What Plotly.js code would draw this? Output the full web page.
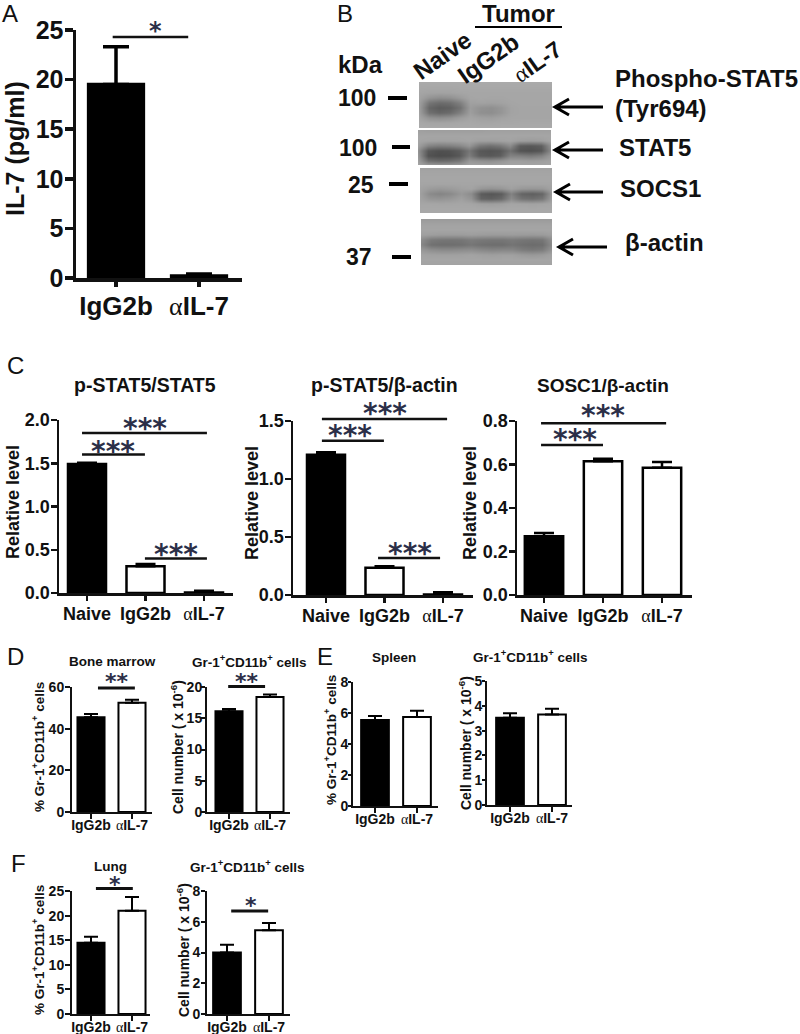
<!DOCTYPE html>
<html><head><meta charset="utf-8">
<script src="https://cdn.plot.ly/plotly-3.0.1.min.js"></script>
<style>html,body{margin:0;padding:0;background:#fff}</style></head>
<body><div id="chart" style="width:800px;height:1034px"></div>
<script>
// ---------- data ----------
const ALPHA = '<span style="font-family:Liberation Serif;font-weight:400">α</span>';
const groups2 = ['IgG2b', ALPHA + 'IL-7'];
const groups3 = ['Naive', 'IgG2b', ALPHA + 'IL-7'];
const fill2 = ['#000000','#ffffff'];
const fill3 = ['#000000','#ffffff','#ffffff'];

const il7Values = [19.5, 0.2];            const il7Err = [3.8, 0.2];
const pStat5Values = [1.49, 0.31, 0.005];  const pStat5Err = [0.015, 0.025, 0.02];
const pActinValues = [1.21, 0.235, 0.005]; const pActinErr = [0.02, 0.012, 0.018];
const socsValues = [0.27, 0.615, 0.585];   const socsErr = [0.015, 0.012, 0.027];
const bmPctValues = [45.5, 52.5];   const bmPctErr = [1.5, 1.4];
const bmNumValues = [16.1, 18.4];   const bmNumErr = [0.4, 0.4];
const spPctValues = [5.55, 5.75];   const spPctErr = [0.25, 0.4];
const spNumValues = [3.52, 3.65];   const spNumErr = [0.18, 0.23];
const luPctValues = [14.5, 21.0];   const luPctErr = [1.2, 2.8];
const luNumValues = [4.0, 5.45];    const luNumErr = [0.5, 0.47];

// western blot grey levels (0 black .. 255 white), lane by lane
const blotPhospho = [
 [170,170,170,170,170,170,170,170,170,170,170,170,170,170],
 [168,167,167,167,168,168,168,168,168,168,168,168,168,168],
 [165,163,162,163,165,166,166,166,166,166,166,166,166,166],
 [163,148,142,145,155,165,166,165,165,166,166,166,166,166],
 [160,118,108,112,128,160,162,160,162,165,166,166,166,166],
 [158,102,92,96,114,156,146,143,150,163,165,165,165,165],
 [160,112,102,108,128,158,144,142,150,163,165,165,165,165],
 [164,146,142,146,156,164,160,158,162,165,165,165,165,165],
 [168,165,164,165,167,168,166,166,167,167,168,168,168,168],
 [170,170,170,170,170,170,170,170,170,170,170,170,170,170]];
const blotStat5 = [
 [160,158,158,158,158,158,158,160,160,160,160,160,160,160],
 [165,165,165,165,165,165,165,165,165,165,165,165,165,165],
 [165,163,162,162,163,165,160,160,162,164,158,156,158,165],
 [160,132,125,128,135,150,120,112,120,140,92,88,95,150],
 [145,88,80,82,92,118,88,84,88,112,84,80,86,140],
 [150,82,76,78,88,125,92,88,94,130,128,122,130,155],
 [158,112,105,108,118,150,145,142,148,158,158,156,158,162],
 [165,160,158,158,160,165,165,165,165,165,165,165,165,165]];
const blotSocs = [
 [162,162,162,162,162,162,162,162,162,162,162,162,162,162],
 [165,165,165,165,165,165,165,165,165,165,165,165,165,165],
 [166,166,166,166,166,166,166,166,166,166,166,166,166,166],
 [165,165,165,165,165,165,165,165,165,165,165,165,165,165],
 [162,155,152,155,160,163,150,146,150,160,152,150,152,163],
 [160,138,132,138,152,140,92,86,92,130,100,95,102,155],
 [162,150,148,152,160,148,100,96,105,140,115,110,118,160],
 [166,166,165,165,166,165,160,158,160,165,164,162,164,166],
 [168,168,168,168,168,168,168,168,168,168,168,168,168,168],
 [168,168,168,168,168,168,168,168,168,168,168,168,168,168]];
const blotActin = [
 [155,155,155,155,155,155,155,155,155,155,155,155,155,155],
 [163,163,163,163,163,163,163,163,163,163,163,163,163,163],
 [165,165,165,165,165,165,165,165,165,165,165,165,165,165],
 [160,158,156,156,156,158,156,155,155,156,155,154,155,160],
 [140,122,118,117,118,124,120,118,118,122,118,116,118,145],
 [135,113,110,110,112,118,112,110,110,116,111,108,110,140],
 [152,142,138,138,140,142,136,132,134,134,124,120,124,150],
 [163,161,160,160,161,163,160,158,160,160,155,152,155,163],
 [165,165,165,165,165,165,165,165,165,165,165,165,165,165],
 [163,163,163,163,163,163,163,163,163,163,163,163,163,163]];

// ---------- layout helpers (pixel geometry of the page) ----------
const W = 800, H = 1034;
const SANS = 'Liberation Sans, Arial, sans-serif';
const INK = '#111111';
const px = v => v / W, py = v => 1 - v / H;
const traces = [];
const layout = {width:W, height:H, margin:{l:0,r:0,t:0,b:0}, paper_bgcolor:'#fff', plot_bgcolor:'rgba(0,0,0,0)',
  showlegend:false, bargap:0, annotations:[], shapes:[]};
let axisNo = 0;

function text(str, x, y, size, opts={}) {
  layout.annotations.push(Object.assign({text:str, x:px(x), y:py(y), xref:'paper', yref:'paper',
    xanchor:'center', yanchor:'middle', showarrow:false,
    font:{family:SANS, size:size, color:INK, weight:700}}, opts));
}

function barPanel(g) {
  axisNo++;
  const sx = axisNo === 1 ? '' : axisNo, xa = 'x' + sx, ya = 'y' + sx;
  const sp = g.t1 - g.t0;
  const x0 = (g.l-g.t0)/sp, x1 = (g.r-g.t0)/sp;
  const fx = v => (v - x0) / (x1 - x0), fy = v => v / g.ymax;
  const tickvals = g.labels.map((_, i) => i);
  layout['xaxis' + sx] = {domain:[px(g.l), px(g.r)], range:[x0, x1], anchor:ya, showgrid:false, zeroline:false,
    showline:true, linecolor:INK, linewidth:g.lw, ticks:'outside', ticklen:5, tickwidth:g.lw, tickcolor:INK,
    tickmode:'array', tickvals:tickvals, ticktext:g.labels,
    tickfont:{family:SANS, size:g.xfs, color:INK, weight:700}, ticklabelstandoff:g.xso};
  layout['yaxis' + sx] = {domain:[py(g.b), py(g.t)], range:[0, g.ymax], anchor:xa, showgrid:false, zeroline:false,
    showline:true, linecolor:INK, linewidth:g.lw, ticks:'outside', ticklen:g.tl, tickwidth:g.lw, tickcolor:INK,
    dtick:g.dtick, tickformat:g.fmt||'', tickfont:{family:SANS, size:g.yfs, color:INK, weight:700}, ticklabelstandoff:g.yso};
  traces.push({type:'bar', x:tickvals, y:g.values, xaxis:xa, yaxis:ya, width:g.bw,
    marker:{color:g.fill, line:{color:'#000', width:g.lw}}, cliponaxis:false, hoverinfo:'skip',
    error_y:{type:'data', symmetric:false, array:g.err, arrayminus:g.err.map(() => 0), color:'#000', thickness:g.lw, width:g.cap}});
  (g.brackets||[]).forEach(b => layout.shapes.push({type:'line', xref:xa+' domain', yref:ya+' domain',
    x0:fx(b[0]), x1:fx(b[1]), y0:fy(b[2]), y1:fy(b[2]), line:{color:'#111', width:g.blw}}));
  (g.stars||[]).forEach(s => layout.annotations.push({text:s[2], x:fx(s[0]), y:fy(s[1]), xref:xa+' domain', yref:ya+' domain', showarrow:false,
    xanchor:'center', yanchor:'middle', yshift:-0.2*g.sfs, font:{family:'DejaVu Sans', size:g.sfs, color:'#2b2f48', weight:700}}));
  text(g.ytitle, g.tx, g.ty, g.tfs, {textangle:-90});
}

function blot(z, l, r, t, b) {
  axisNo++;
  const sx = axisNo, xa = 'x' + sx, ya = 'y' + sx;
  layout['xaxis' + sx] = {domain:[px(l), px(r)], range:[0, z[0].length-1], anchor:ya, visible:false};
  layout['yaxis' + sx] = {domain:[py(b), py(t)], range:[z.length-1, 0], anchor:xa, visible:false};
  traces.push({type:'heatmap', z:z, xaxis:xa, yaxis:ya, zmin:0, zmax:255, zsmooth:'best', showscale:false, hoverinfo:'skip',
    colorscale:[[0,'#000000'],[1,'#ffffff']]});
}

function arrow(xTail, xTip, y) {
  layout.shapes.push({type:'path', xref:'paper', yref:'paper', line:{color:'#000', width:3},
    path:`M${px(xTail)},${py(y)} L${px(xTip)},${py(y)} M${px(xTip+14)},${py(y-8)} L${px(xTip)},${py(y)} L${px(xTip+14)},${py(y+8)}`});
}
function dash(x0, x1, y, w) {
  layout.shapes.push({type:'line', xref:'paper', yref:'paper', x0:px(x0), x1:px(x1), y0:py(y), y1:py(y), line:{color:'#000', width:w}});
}

// ---------- panels ----------
const GR = 'Gr-1<sup>+</sup>CD11b<sup>+</sup>';
const big = {lw:3.5, tl:8, xfs:26, yfs:25, tfs:25, bw:0.66, cap:13, sfs:24, blw:2.5, xso:-3, yso:-4};
barPanel({...big, l:76,r:242,t:30,b:278,t0:116,t1:199, ymax:25,dtick:5, labels:groups2, values:il7Values, err:il7Err, fill:fill2,
  ytitle:'IL-7 (pg/ml)', tx:15, ty:149, brackets:[[-0.04,0.87,24.3]], stars:[[0.47,25.4,'*']]});

const mid = {lw:2.5, tl:6, xfs:18, yfs:18, tfs:18, bw:0.65, cap:10, sfs:28, blw:2.5, xso:-2, yso:-3, fmt:'.1f'};
barPanel({...mid, l:59,r:233,t:420,b:593,t0:87,t1:145.5, ymax:2,dtick:0.5, labels:groups3, values:pStat5Values, err:pStat5Err, fill:fill3,
  ytitle:'Relative level', tx:13, ty:502, brackets:[[-0.085,2.05,1.85],[-0.085,0.99,1.6],[0.99,2.05,0.40]],
  stars:[[0.99,1.965,'***'],[0.44,1.70,'***'],[1.52,0.51,'***']]});
barPanel({...mid, l:293,r:473,t:421,b:595,t0:326,t1:384.5, ymax:1.5,dtick:0.5, labels:groups3, values:pActinValues, err:pActinErr, fill:fill3,
  ytitle:'Relative level', tx:252, ty:503, brackets:[[-0.07,2.07,1.517],[-0.07,0.99,1.33],[0.89,1.95,0.32]],
  stars:[[1.01,1.61,'***'],[0.41,1.42,'***'],[1.44,0.41,'***']]});
barPanel({...mid, l:517,r:692,t:421,b:595,t0:544,t1:603, ymax:0.8,dtick:0.2, labels:groups3, values:socsValues, err:socsErr, fill:fill3,
  ytitle:'Relative level', tx:470, ty:503, brackets:[[-0.05,2.07,0.79],[-0.05,1.0,0.69]],
  stars:[[1.0,0.85,'***'],[0.525,0.74,'***']]});

const small = {lw:2, tl:5, xfs:14, yfs:14, tfs:13.5, bw:0.66, cap:7, sfs:22, blw:3, xso:-6, yso:-2};
const NUM = 'Cell number ( x 10<sup>-6</sup>)';
barPanel({...small, l:72,r:152,t:687,b:812,t0:91,t1:132, ymax:60,dtick:20, labels:groups2, values:bmPctValues, err:bmPctErr, fill:fill2,
  ytitle:'% '+GR+' cells', tx:38, ty:747, brackets:[[0.17,1.07,59.5]], stars:[[0.63,64.8,'**']]});
barPanel({...small, l:207,r:290,t:687,b:812,t0:229,t1:270, ymax:20,dtick:5, tl:4, yso:-4, labels:groups2, values:bmNumValues, err:bmNumErr, fill:fill2,
  ytitle:NUM, tfs:14, tx:177, ty:747, brackets:[[-0.02,0.88,20.1]], stars:[[0.44,21.6,'**']]});
barPanel({...small, l:353,r:438,t:682,b:806,t0:375,t1:417, ymax:8,dtick:2, tl:3, yso:-3, labels:groups2, values:spPctValues, err:spPctErr, fill:fill2,
  ytitle:'% '+GR+' cells', tx:330, ty:740});
barPanel({...small, l:487,r:572,t:681,b:805,t0:510,t1:552, ymax:5,dtick:1, tl:3, yso:-3, labels:groups2, values:spNumValues, err:spNumErr, fill:fill2,
  ytitle:NUM, tfs:14, tx:465, ty:743});
barPanel({...small, l:72,r:150,t:891,b:1014,t0:91,t1:132, ymax:25,dtick:5, labels:groups2, values:luPctValues, err:luPctErr, fill:fill2,
  ytitle:'% '+GR+' cells', tx:38, ty:950, brackets:[[0.12,1.02,25.5]], stars:[[0.59,27.2,'*']]});
barPanel({...small, l:207,r:290,t:891,b:1014,t0:227,t1:269, ymax:8,dtick:2, tl:4, labels:groups2, values:luNumValues, err:luNumErr, fill:fill2,
  ytitle:NUM, tfs:14, tx:183, ty:950, brackets:[[0.1,0.98,6.7]], stars:[[0.57,7.34,'*']]});

// western blots
blot(blotPhospho, 419, 552, 82, 128);
blot(blotStat5, 418, 551, 130, 165);
blot(blotSocs, 420, 552, 168, 213);
blot(blotActin, 421, 552, 219, 265);

// panel letters
const letterFont = {font:{family:SANS, size:24, color:'#111', weight:400}};
text('A', 10, 14, 24, letterFont);
text('B', 345, 13, 24, letterFont);
text('C', 15, 365, 24, letterFont);
text('D', 15, 656, 24, letterFont);
text('E', 325, 656, 24, letterFont);
text('F', 18, 863, 24, letterFont);

// panel titles
text('p-STAT5/STAT5', 145, 385, 19.5);
text('p-STAT5/β-actin', 384, 385, 19.5);
text('SOSC1/β-actin', 603, 385, 19);
text('Bone marrow', 112, 661, 13.5);
text(GR+' cells', 249, 661, 13.5);
text('Spleen', 394, 657, 13.5);
text(GR+' cells', 530, 656, 13.5);
text('Lung', 110, 866, 13.5);
text(GR+' cells', 247, 866, 13.5);

// blot annotations
text('kDa', 360, 64, 24);
text('Tumor', 518, 13, 24);
dash(475, 562, 27, 2);
text('Naive', 442, 55, 24, {textangle:-35});
text('IgG2b', 488, 58, 24, {textangle:-35});
text(ALPHA + 'IL-7', 537, 62, 23, {textangle:-35});
text('100', 357, 98, 23);  dash(388, 407, 98, 4);
text('100', 358, 148, 23); dash(392, 410, 147, 4);
text('25', 361, 185, 23);  dash(389, 408, 184, 4);
text('37', 359, 257, 23);  dash(392, 411, 257, 4);
text('Phospho-STAT5', 613, 78, 24, {xanchor:'left'});
text('(Tyr694)', 613, 108, 24, {xanchor:'left'});
text('STAT5', 617, 148, 24, {xanchor:'left'});
text('SOCS1', 618, 188, 24, {xanchor:'left'});
text('β-actin', 623, 243, 24, {xanchor:'left'});
arrow(603, 555, 107);
arrow(603, 555, 150);
arrow(603, 556, 192);
arrow(607, 559, 247);

Plotly.newPlot('chart', traces, layout, {displayModeBar:false, staticPlot:true});
</script></body></html>
